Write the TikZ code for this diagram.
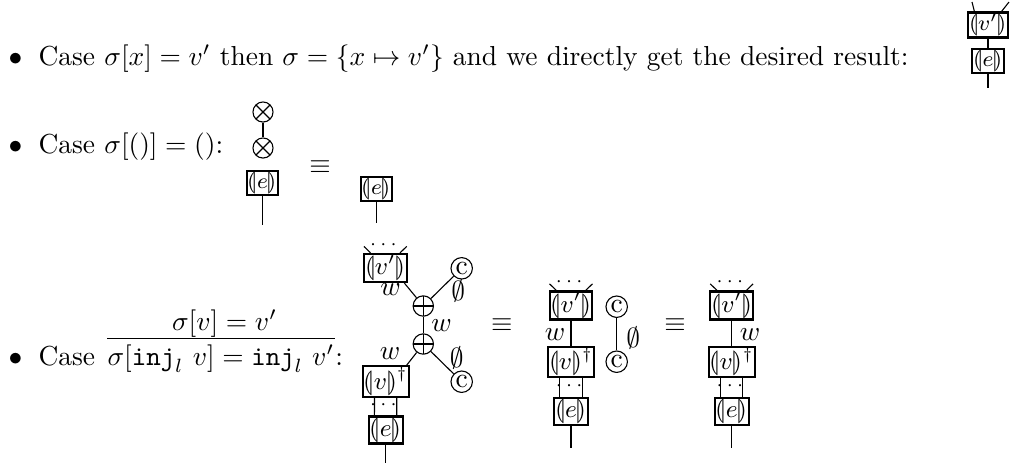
\documentclass[tikz,border=0pt]{standalone}
\usepackage{amsmath,amssymb}
\usepackage{stmaryrd}
\newcommand{\bq}[1]{\llparenthesis #1\rrparenthesis}
\begin{document}
\begin{tikzpicture}[x=0.3638pt,y=-0.3638pt,
  txt/.style={inner sep=0pt, anchor=base west},
  bx/.style={draw, thick, inner sep=0.4pt, font=\small},
  sbx/.style={draw, thick, inner sep=0.5pt, font=\footnotesize},
  lbl/.style={inner sep=0pt},
  dts/.style={inner sep=0pt, font=\scriptsize},
  cc/.style={draw, circle, inner sep=0pt, minimum size=7.8pt},
  oplusn/.style={draw, circle, inner sep=0pt, minimum size=7.4pt,
    path picture={\draw (path picture bounding box.north) -- (path picture bounding box.south)
                        (path picture bounding box.west) -- (path picture bounding box.east);}},
  otimesn/.style={draw, circle, inner sep=0pt, minimum size=7.3pt,
    path picture={\draw (path picture bounding box.north west) -- (path picture bounding box.south east)
                        (path picture bounding box.north east) -- (path picture bounding box.south west);}}
]
\useasboundingbox (0,0) rectangle (1015,465);

% ---- line 1
\node[txt] (b1) at (8,65) {$\bullet$};
\node[txt] (t1) at (38,65) {Case $\sigma[x] = v'$ then $\sigma = \{x \mapsto v'\}$ and we directly get the desired result:};
\node[sbx] (a1) at (988,25) {$\bq{v'}$};
\node[sbx] (a2) at (988,61) {$\bq{e}$};
\coordinate (a3) at (988,88);
\coordinate (a4) at (972,2);
\coordinate (a5) at (1009,2);
\draw (a1) -- (a2);
\draw (a2) -- (a3);
\draw ([xshift=2.8pt]a1.north west) -- (a4);
\draw ([xshift=-2.8pt]a1.north east) -- (a5);

% ---- line 2
\node[txt] (b2) at (8,153) {$\bullet$};
\node[txt] (t2) at (38,153) {Case $\sigma[()] = ()$:};
\node[otimesn] (o1) at (263,112) {};
\node[otimesn] (o2) at (263,148) {};
\draw (o1) -- (o2);
\node[sbx] (e2) at (262.5,183) {$\bq{e}$};
\coordinate (e2b) at (262.5,225);
\draw (e2) -- (e2b);
\node[lbl] (eq1) at (320,167) {$\equiv$};
\node[sbx] (e3) at (376.5,189) {$\bq{e}$};
\coordinate (e3b) at (376.5,223);
\draw (e3) -- (e3b);

% ---- line 3
\node[txt] (b3) at (8,365) {$\bullet$};
\node[txt] (t3) at (38,365) {Case};
\node[txt] (c3) at (107,365) {$\sigma[\texttt{inj}_l\ v] = \texttt{inj}_l\ v'$};
\node[txt] (col3) at (c3.base east) {:};
\node[inner sep=0pt, anchor=base] (n3) at (224.5,330) {$\sigma[v] = v'$};
\draw ([yshift=2pt]c3.north west) -- ([yshift=2pt]c3.north east);

% diagram A
\node[bx] (va) at (385.3,268) {$\bq{v'}$};
\draw ([xshift=2.8pt]va.north west) -- ++(-6.7,-6.5) coordinate (vaL);
\draw ([xshift=-2.8pt]va.north east) -- ++(6.7,-6.5) coordinate (vaR);
\node[dts] (vadots) at (385.3,245) {$\cdots$};
\node[oplusn] (p1) at (423.3,306) {};
\node[oplusn] (p2) at (423.3,344) {};
\node[cc] (ca1) at (461.7,268.3) {c};
\node[cc] (ca2) at (461.7,381.7) {c};
\node[bx] (vda) at (385.8,381.5) {$\bq{v}^\dagger$};
\node[bx] (ea) at (385.7,430) {$\bq{e}$};
\coordinate (eab) at (385.7,463);
\draw (p1) -- ([xshift=-1.2pt]va.south east);
\draw (p1) -- (ca1);
\draw (p1) -- (p2);
\draw (p2) -- ([xshift=-1.2pt]vda.north east);
\draw (p2) -- (ca2);
\draw ([xshift=-4.1pt]vda.south) -- ([xshift=-4.1pt]ea.north);
\draw ([xshift=4pt]vda.south) -- ([xshift=4pt]ea.north);
\node[dts] (vdadots) at (385.3,405) {$\cdots$};
\draw (ea) -- (eab);
\node[lbl] (wa1) at (390.7,290) {$w$};
\node[lbl] (wa2) at (441.7,326) {$w$};
\node[lbl] (wa3) at (390,354) {$w$};
\node[lbl] (ea1) at (458.3,290.5) {$\emptyset$};
\node[lbl] (ea2) at (456.7,358.3) {$\emptyset$};
\node[lbl] (eq2) at (501.7,325) {$\equiv$};

% diagram B
\node[bx] (vb) at (571,305.5) {$\bq{v'}$};
\draw ([xshift=2.8pt]vb.north west) -- ++(-6.7,-6.5) coordinate (vbL);
\draw ([xshift=-2.8pt]vb.north east) -- ++(6.7,-6.5) coordinate (vbR);
\node[dts] (vbdots) at (571,282.5) {$\cdots$};
\node[bx] (vdb) at (571,362) {$\bq{v}^\dagger$};
\node[bx] (eb) at (571,411.5) {$\bq{e}$};
\coordinate (ebb) at (571,448.3);
\draw (vb) -- (vdb);
\draw ([xshift=-4.1pt]vdb.south) -- ([xshift=-4.1pt]eb.north);
\draw ([xshift=4.1pt]vdb.south) -- ([xshift=4.1pt]eb.north);
\node[dts] (vdbdots) at (571,386.5) {$\cdots$};
\draw (eb) -- (ebb);
\node[lbl] (wb) at (555,335) {$w$};
\node[cc] (cb1) at (616.7,306.7) {c};
\node[cc] (cb2) at (616.7,361.7) {c};
\draw (cb1) -- (cb2);
\node[lbl] (eb1) at (633.3,338.3) {$\emptyset$};
\node[lbl] (eq3) at (675,325) {$\equiv$};

% diagram C
\node[bx] (vc) at (731.7,305.5) {$\bq{v'}$};
\draw ([xshift=2.8pt]vc.north west) -- ++(-6.7,-6.5) coordinate (vcL);
\draw ([xshift=-2.8pt]vc.north east) -- ++(6.7,-6.5) coordinate (vcR);
\node[dts] (vcdots) at (731.7,282.5) {$\cdots$};
\node[bx] (vdc) at (731.7,362) {$\bq{v}^\dagger$};
\node[bx] (ec) at (731.7,411.5) {$\bq{e}$};
\coordinate (ecb) at (731.7,448.3);
\draw (vc) -- (vdc);
\draw ([xshift=-4pt]vdc.south) -- ([xshift=-4pt]ec.north);
\draw ([xshift=4pt]vdc.south) -- ([xshift=4pt]ec.north);
\node[dts] (vdcdots) at (731.7,386.5) {$\cdots$};
\draw (ec) -- (ecb);
\node[lbl] (wc) at (750,335) {$w$};
\end{tikzpicture}
\end{document}
